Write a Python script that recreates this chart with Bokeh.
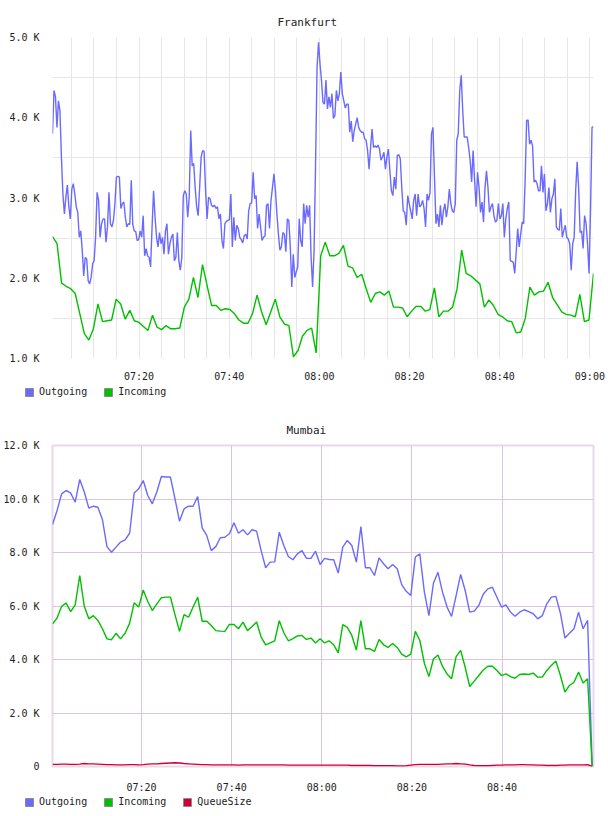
import numpy as np
from bokeh.plotting import figure
from bokeh.models import FixedTicker, Grid, Legend, LegendItem, Range1d
from bokeh.layouts import column, row
from bokeh.embed import file_html
from bokeh.resources import INLINE

FONT = "DejaVu Sans Mono"
C_OUT, C_IN, C_Q = "#6a6aff", "#00c000", "#cc0033"

# ---------------- data (values in K, time in minutes after 07:00) ----------------
x_ticks = [20, 40, 60, 80, 100, 120]
x_labels = ["07:20", "07:40", "08:00", "08:20", "08:40", "09:00"]

fra_span = (0.8, 120.8)
fra_out = [
    3.80, 4.34, 4.26, 3.88, 4.21, 4.09, 3.51, 3.05, 2.80, 3.01,
    3.16, 2.89, 2.74, 3.11, 3.18, 3.05, 2.89, 2.82, 2.51, 2.59,
    2.35, 2.03, 2.26, 2.24, 1.97, 1.93, 2.01, 2.18, 2.22, 2.51,
    3.07, 2.97, 2.51, 2.68, 2.74, 2.74, 2.45, 2.64, 3.07, 2.68,
    2.64, 2.72, 2.93, 3.26, 3.27, 3.26, 2.87, 2.93, 2.95, 2.76,
    2.64, 2.68, 2.67, 3.22, 2.67, 2.59, 2.58, 2.47, 2.48, 2.59,
    2.51, 2.78, 2.28, 2.37, 2.28, 2.26, 2.14, 2.64, 3.09, 2.76,
    2.51, 2.39, 2.57, 2.43, 2.51, 2.30, 2.59, 2.68, 2.30, 2.43,
    2.51, 2.55, 2.22, 2.26, 2.57, 2.22, 2.10, 2.26, 3.03, 3.09,
    3.05, 2.76, 3.01, 3.84, 3.40, 3.43, 3.13, 2.89, 2.78, 3.13,
    3.51, 3.59, 3.58, 3.09, 2.74, 3.01, 2.99, 2.91, 2.89, 2.91,
    2.87, 2.89, 2.74, 2.80, 2.47, 2.37, 2.68, 2.71, 2.72, 2.73,
    3.05, 2.39, 2.76, 2.47, 2.66, 2.62, 2.51, 2.48, 2.44, 2.53,
    2.55, 2.49, 2.84, 2.93, 2.94, 3.32, 2.99, 3.03, 2.62, 2.80,
    2.64, 2.47, 2.51, 2.53, 2.91, 2.93, 2.62, 2.97, 3.13, 3.30,
    3.09, 2.80, 2.55, 2.35, 2.39, 2.57, 2.55, 2.33, 2.74, 2.72,
    2.39, 1.89, 2.30, 2.01, 2.08, 2.14, 2.74, 2.47, 2.39, 2.93,
    2.68, 2.91, 2.76, 2.91, 2.26, 1.89, 2.35, 3.43, 4.63, 4.94,
    4.67, 4.46, 4.19, 4.17, 4.47, 4.11, 4.26, 4.13, 4.30, 3.99,
    4.03, 4.34, 4.21, 4.30, 4.57, 4.30, 4.21, 4.12, 4.17, 4.17,
    3.82, 3.96, 3.70, 3.84, 3.92, 4.00, 3.88, 3.84, 3.82, 3.82,
    3.74, 3.72, 3.59, 3.36, 3.63, 3.86, 3.63, 3.65, 3.63, 3.66,
    3.61, 3.47, 3.51, 3.57, 3.36, 3.51, 3.61, 3.34, 3.09, 3.03,
    3.26, 3.11, 3.53, 3.54, 3.49, 3.13, 2.84, 2.82, 2.66, 3.03,
    2.93, 2.84, 2.74, 2.97, 3.05, 2.78, 3.05, 2.89, 2.91, 2.97,
    2.87, 2.64, 3.05, 2.97, 3.07, 3.80, 3.88, 3.26, 2.68, 2.80,
    2.64, 2.91, 2.66, 2.84, 2.93, 2.76, 2.89, 3.11, 2.93, 2.84,
    2.82, 2.93, 3.72, 3.80, 4.34, 4.53, 4.09, 3.76, 3.76, 3.76,
    3.63, 3.47, 3.20, 3.59, 3.22, 2.89, 3.32, 3.13, 2.82, 2.95,
    2.70, 3.13, 3.34, 3.13, 2.82, 2.89, 2.93, 2.78, 2.70, 2.72,
    2.93, 2.74, 2.78, 2.93, 2.51, 2.74, 2.87, 2.95, 2.22, 2.21,
    2.20, 2.06, 2.33, 2.62, 2.39, 2.55, 2.70, 2.68, 3.22, 3.97,
    3.97, 3.67, 3.72, 3.65, 3.20, 3.22, 3.18, 3.09, 3.09, 3.40,
    3.07, 3.30, 2.84, 2.93, 3.13, 2.82, 2.99, 3.05, 3.24, 2.64,
    2.61, 2.60, 2.87, 2.51, 2.59, 2.66, 2.51, 2.49, 2.43, 2.10,
    2.43, 2.51, 3.09, 3.45, 3.13, 2.57, 2.59, 2.37, 2.78, 2.68,
    2.43, 2.06, 2.84, 3.88, 3.89,
]
fra_in = [
    2.52, 2.43, 1.94, 1.90, 1.87, 1.81, 1.56, 1.31, 1.23, 1.37,
    1.68, 1.46, 1.47, 1.48, 1.74, 1.68, 1.49, 1.60, 1.47, 1.45,
    1.40, 1.35, 1.54, 1.39, 1.36, 1.41, 1.37, 1.37, 1.38, 1.64,
    1.74, 2.01, 1.76, 2.17, 1.91, 1.66, 1.66, 1.60, 1.62, 1.61,
    1.56, 1.48, 1.44, 1.44, 1.56, 1.79, 1.58, 1.42, 1.58, 1.74,
    1.52, 1.43, 1.41, 1.02, 1.10, 1.28, 1.35, 1.38, 1.07, 2.28,
    2.45, 2.28, 2.28, 2.31, 2.41, 2.15, 2.13, 2.01, 2.05, 1.87,
    1.70, 1.81, 1.83, 1.79, 1.84, 1.64, 1.64, 1.63, 1.52, 1.59,
    1.65, 1.65, 1.59, 1.61, 1.88, 1.52, 1.59, 1.59, 1.64, 1.87,
    2.35, 2.06, 2.03, 1.98, 1.93, 1.64, 1.73, 1.66, 1.55, 1.52,
    1.47, 1.46, 1.32, 1.33, 1.50, 1.89, 1.79, 1.83, 1.84, 1.95,
    1.76, 1.67, 1.58, 1.55, 1.54, 1.52, 1.80, 1.46, 1.48, 2.06,
]

mum_span = (0.25, 120.0)
mum_out = [
    9.05, 9.57, 10.19, 10.32, 10.22, 9.88, 10.73, 10.26, 9.66, 9.73,
    9.69, 9.23, 8.22, 8.01, 8.20, 8.39, 8.47, 8.72, 10.22, 10.38,
    10.69, 10.13, 9.82, 10.26, 10.84, 10.82, 10.82, 10.01, 9.17, 9.63,
    9.73, 9.73, 10.09, 8.92, 8.64, 8.07, 8.22, 8.55, 8.57, 8.70,
    9.11, 8.72, 8.85, 8.66, 8.85, 8.80, 8.07, 7.43, 7.64, 7.65,
    8.76, 8.26, 7.85, 7.73, 7.95, 8.07, 7.78, 7.78, 8.05, 7.55,
    7.78, 7.74, 7.73, 7.23, 8.20, 8.45, 8.26, 7.64, 8.97, 7.43,
    7.43, 7.14, 7.80, 7.58, 7.39, 7.55, 7.39, 6.80, 6.55, 6.39,
    7.83, 7.95, 6.52, 5.64, 6.85, 7.26, 6.52, 5.96, 5.61, 6.39,
    7.18, 6.58, 5.77, 5.81, 6.02, 6.45, 6.64, 6.70, 6.33, 5.96,
    6.04, 5.77, 5.62, 5.77, 5.86, 5.79, 5.71, 5.52, 5.64, 6.08,
    6.33, 6.36, 5.73, 4.80, 4.98, 5.15, 5.77, 5.15, 5.46, 0.04,
]
mum_in = [
    5.33, 5.55, 5.99, 6.11, 5.79, 6.04, 7.14, 5.99, 5.52, 5.64,
    5.46, 5.15, 4.77, 4.74, 4.98, 4.77, 4.98, 5.36, 6.12, 5.96,
    6.60, 6.17, 5.83, 6.08, 6.31, 6.33, 6.33, 5.68, 5.05, 5.68,
    5.58, 5.96, 6.33, 5.43, 5.43, 5.27, 5.08, 5.06, 5.05, 5.31,
    5.31, 5.15, 5.40, 5.08, 5.23, 5.40, 4.84, 4.55, 4.62, 4.70,
    5.45, 5.00, 4.70, 4.78, 4.88, 4.90, 4.75, 4.80, 4.62, 4.78,
    4.62, 4.70, 4.55, 4.25, 5.30, 5.20, 4.90, 4.35, 5.45, 4.40,
    4.40, 4.30, 4.75, 4.55, 4.45, 4.60, 4.45, 4.20, 4.10, 4.20,
    5.05, 4.71, 3.86, 3.36, 4.02, 4.17, 3.74, 3.46, 3.28, 4.11,
    4.34, 3.71, 2.99, 3.19, 3.40, 3.61, 3.75, 3.75, 3.59, 3.40,
    3.46, 3.36, 3.30, 3.44, 3.46, 3.44, 3.49, 3.34, 3.34, 3.59,
    3.78, 3.94, 3.40, 2.78, 3.03, 3.15, 3.53, 3.12, 3.28, 0.00,
]
mum_queue = [
    0.08, 0.08, 0.09, 0.09, 0.08, 0.08, 0.09, 0.11, 0.10, 0.10,
    0.09, 0.08, 0.07, 0.07, 0.06, 0.06, 0.06, 0.07, 0.07, 0.06,
    0.07, 0.09, 0.10, 0.10, 0.11, 0.12, 0.13, 0.14, 0.13, 0.11,
    0.10, 0.09, 0.08, 0.07, 0.07, 0.06, 0.06, 0.06, 0.06, 0.06,
    0.06, 0.05, 0.06, 0.06, 0.06, 0.06, 0.06, 0.06, 0.06, 0.06,
    0.06, 0.06, 0.05, 0.05, 0.05, 0.05, 0.05, 0.05, 0.05, 0.05,
    0.05, 0.05, 0.05, 0.05, 0.05, 0.05, 0.04, 0.04, 0.04, 0.04,
    0.04, 0.03, 0.03, 0.03, 0.03, 0.03, 0.02, 0.02, 0.03, 0.05,
    0.07, 0.08, 0.08, 0.08, 0.08, 0.08, 0.09, 0.10, 0.10, 0.11,
    0.10, 0.09, 0.06, 0.04, 0.03, 0.03, 0.03, 0.04, 0.05, 0.05,
    0.06, 0.06, 0.06, 0.07, 0.07, 0.06, 0.06, 0.05, 0.05, 0.04,
    0.04, 0.04, 0.05, 0.05, 0.06, 0.06, 0.06, 0.06, 0.07, 0.00,
]


def times(span, vals):
    return np.linspace(span[0], span[1], len(vals))


def style_axes(p, title_offset, title_standoff):
    for ax in (p.xaxis, p.yaxis):
        ax.axis_line_color = None
        ax.major_tick_line_color = None
        ax.minor_tick_line_color = None
        ax.major_label_text_font = FONT
        ax.major_label_text_font_size = "10px"
        ax.major_label_text_color = "#222222"
    p.yaxis.major_label_standoff = 7
    p.title.align = "left"
    p.title.offset = title_offset
    p.title.standoff = title_standoff
    p.title.text_font = FONT
    p.title.text_font_size = "11px"
    p.title.text_font_style = "normal"
    p.title.text_color = "#222222"


def legend_fig(entries, height, top_gap):
    f = figure(width=608, height=height, x_range=Range1d(0, 608), y_range=Range1d(0, height),
               x_axis_type=None, y_axis_type=None, output_backend="svg", toolbar_location=None,
               min_border=0, outline_line_color=None)
    f.grid.visible = False
    items = []
    for label, col in entries:
        # renderer kept off-screen: it only provides the legend swatch
        r = f.quad(left=[-20], right=[-10], top=[-20], bottom=[-10],
                   fill_color=col, line_color="#8c8c8c")
        items.append(LegendItem(label=label, renderers=[r]))
    lg = Legend(items=items, orientation="horizontal", location=(24, height - top_gap - 10),
                glyph_width=10, glyph_height=10, label_height=10, label_standoff=5,
                spacing=16, padding=0, margin=0, border_line_color=None,
                background_fill_alpha=0, label_text_font=FONT,
                label_text_font_size="10px", label_text_color="#222222")
    f.add_layout(lg, "center")
    return row(f)


# ---------------- Frankfurt ----------------
p1 = figure(width=608, height=384, title="Frankfurt", x_range=Range1d(*fra_span),
            y_range=Range1d(1.0, 5.0), output_backend="svg", toolbar_location=None,
            min_border_left=51, min_border_right=15, min_border_top=37, min_border_bottom=26)
p1.outline_line_color = None
style_axes(p1, 225, 18)
p1.xaxis.ticker = FixedTicker(ticks=x_ticks)
p1.xaxis.major_label_overrides = dict(zip(x_ticks, x_labels))
p1.xaxis.major_label_standoff = 6
p1.yaxis.ticker = FixedTicker(ticks=[1, 2, 3, 4, 5])
p1.yaxis.major_label_overrides = {1: "1.0 K", 2: "2.0 K", 3: "3.0 K", 4: "4.0 K", 5: "5.0 K"}
p1.xgrid.ticker = FixedTicker(ticks=list(range(5, 121, 5)))
p1.ygrid.ticker = FixedTicker(ticks=[1.5, 2.5, 3.5, 4.5])
for g in (p1.xgrid, p1.ygrid):
    g.grid_line_color = "#e6e6e6"
p1.line(times(fra_span, fra_out), fra_out, line_color=C_OUT, line_width=1.4)
p1.line(times(fra_span, fra_in), fra_in, line_color=C_IN, line_width=1.4)
leg1 = legend_fig([("Outgoing", C_OUT), ("Incoming", C_IN)], 28, 3)

# ---------------- Mumbai ----------------
p2 = figure(width=608, height=384, title="Mumbai", x_range=Range1d(0.24, 120.3),
            y_range=Range1d(0, 12), output_backend="svg", toolbar_location=None,
            min_border_left=51, min_border_right=15, min_border_top=33, min_border_bottom=30)
p2.outline_line_color = "#ead8ea"
p2.outline_line_width = 2
style_axes(p2, 234, 17)
p2.xaxis.ticker = FixedTicker(ticks=x_ticks[:5])
p2.xaxis.major_label_overrides = dict(zip(x_ticks[:5], x_labels[:5]))
p2.xaxis.major_label_standoff = 9
y2 = [0, 2, 4, 6, 8, 10, 12]
p2.yaxis.ticker = FixedTicker(ticks=y2)
p2.yaxis.major_label_overrides = {v: ("0" if v == 0 else f"{v:.1f} K") for v in y2}
minor_x = [m for m in range(5, 120, 5) if m % 20]
p2.add_layout(Grid(dimension=0, ticker=FixedTicker(ticks=minor_x), grid_line_color="#e2e2e2"))
p2.add_layout(Grid(dimension=1, ticker=FixedTicker(ticks=[1, 3, 5, 7, 9, 11]), grid_line_color="#e2e2e2"))
p2.xgrid.ticker = FixedTicker(ticks=x_ticks[:5])
p2.ygrid.ticker = FixedTicker(ticks=y2)
for g in (p2.xgrid, p2.ygrid):
    g.grid_line_color = "#dcc4dc"
p2.line(times(mum_span, mum_out), mum_out, line_color=C_OUT, line_width=1.4)
p2.line(times(mum_span, mum_in), mum_in, line_color=C_IN, line_width=1.4)
p2.line(times(mum_span, mum_queue), mum_queue, line_color=C_Q, line_width=1.4)
leg2 = legend_fig([("Outgoing", C_OUT), ("Incoming", C_IN), ("QueueSize", C_Q)], 20, 1)

layout = column(p1, leg1, p2, leg2, spacing=0)
open("out.html", "w").write(file_html(layout, INLINE))
